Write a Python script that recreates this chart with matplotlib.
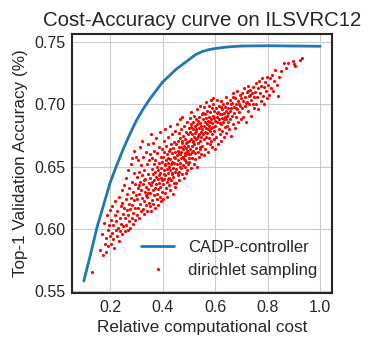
import matplotlib
matplotlib.use('Agg')
import matplotlib.pyplot as plt

# CADP-controller curve
cadp_cost = [0.10, 0.125, 0.15, 0.175, 0.20, 0.225, 0.25, 0.275, 0.30, 0.325, 0.35, 0.375,
             0.40, 0.425, 0.45, 0.475, 0.50, 0.525, 0.55, 0.575, 0.60, 0.65, 0.70, 0.80,
             0.90, 1.00]
cadp_acc = [0.558, 0.579, 0.601, 0.619, 0.637, 0.651, 0.664, 0.676, 0.687, 0.696, 0.704, 0.711,
            0.718, 0.723, 0.728, 0.732, 0.736, 0.740, 0.7425, 0.744, 0.745, 0.7463, 0.747, 0.7472,
            0.7470, 0.7468]

# dirichlet sampling (cost, accuracy)
dirichlet_pts = [
    (0.133, 0.565), (0.161, 0.583), (0.168, 0.596), (0.172, 0.579), (0.176, 0.605), (0.179, 0.588),
    (0.183, 0.593), (0.186, 0.581), (0.188, 0.611), (0.191, 0.599), (0.194, 0.586), (0.196, 0.603),
    (0.198, 0.594), (0.199, 0.615),
    (0.202, 0.588), (0.204, 0.607), (0.206, 0.597), (0.208, 0.618), (0.211, 0.592), (0.213, 0.603),
    (0.215, 0.585), (0.217, 0.611), (0.219, 0.622), (0.221, 0.599), (0.224, 0.606), (0.226, 0.594),
    (0.228, 0.614), (0.231, 0.601), (0.233, 0.626), (0.235, 0.590), (0.237, 0.609), (0.239, 0.598),
    (0.241, 0.618), (0.243, 0.604), (0.245, 0.631), (0.247, 0.596), (0.249, 0.612), (0.246, 0.621),
    (0.251, 0.602), (0.252, 0.617), (0.254, 0.635), (0.256, 0.598), (0.257, 0.609), (0.259, 0.624),
    (0.261, 0.641), (0.262, 0.603), (0.264, 0.615), (0.265, 0.628), (0.267, 0.599), (0.268, 0.611),
    (0.270, 0.647), (0.271, 0.620), (0.273, 0.606), (0.274, 0.633), (0.276, 0.616), (0.277, 0.601),
    (0.279, 0.625), (0.280, 0.652), (0.282, 0.609), (0.283, 0.638), (0.285, 0.619), (0.286, 0.604),
    (0.288, 0.630), (0.289, 0.613), (0.291, 0.645), (0.292, 0.623), (0.294, 0.607), (0.295, 0.636),
    (0.296, 0.617), (0.298, 0.658), (0.299, 0.627), (0.290, 0.663), (0.284, 0.657),
    (0.301, 0.611), (0.302, 0.642), (0.303, 0.624), (0.305, 0.655), (0.306, 0.617), (0.307, 0.633),
    (0.309, 0.609), (0.310, 0.646), (0.311, 0.628), (0.313, 0.666), (0.314, 0.620), (0.315, 0.638),
    (0.317, 0.614), (0.318, 0.651), (0.319, 0.631), (0.321, 0.625), (0.322, 0.643), (0.323, 0.671),
    (0.325, 0.616), (0.326, 0.636), (0.327, 0.658), (0.329, 0.622), (0.330, 0.647), (0.331, 0.612),
    (0.333, 0.630), (0.334, 0.640), (0.335, 0.662), (0.337, 0.619), (0.338, 0.634), (0.339, 0.652),
    (0.341, 0.626), (0.342, 0.614), (0.343, 0.644), (0.345, 0.668), (0.346, 0.629), (0.347, 0.637),
    (0.348, 0.621), (0.349, 0.655), (0.344, 0.632), (0.336, 0.627), (0.328, 0.639), (0.312, 0.635),
    (0.351, 0.618), (0.352, 0.641), (0.353, 0.660), (0.354, 0.629), (0.355, 0.676), (0.356, 0.635),
    (0.357, 0.614), (0.358, 0.648), (0.359, 0.623), (0.360, 0.657), (0.361, 0.638), (0.362, 0.631),
    (0.363, 0.669), (0.364, 0.644), (0.365, 0.620), (0.366, 0.652), (0.367, 0.627), (0.368, 0.639),
    (0.369, 0.663), (0.370, 0.633), (0.371, 0.646), (0.372, 0.617), (0.373, 0.655), (0.374, 0.636),
    (0.375, 0.642), (0.376, 0.673), (0.377, 0.628), (0.378, 0.650), (0.379, 0.624), (0.380, 0.661),
    (0.381, 0.640), (0.382, 0.632), (0.383, 0.647), (0.384, 0.619), (0.385, 0.666), (0.386, 0.637),
    (0.387, 0.653), (0.388, 0.643), (0.389, 0.626), (0.390, 0.678), (0.391, 0.645), (0.392, 0.634),
    (0.393, 0.658), (0.394, 0.622), (0.395, 0.649), (0.396, 0.639), (0.397, 0.664), (0.398, 0.630),
    (0.399, 0.654), (0.393, 0.641),
    (0.401, 0.636), (0.402, 0.658), (0.403, 0.624), (0.404, 0.671), (0.405, 0.647), (0.406, 0.640),
    (0.407, 0.662), (0.408, 0.629), (0.409, 0.651), (0.410, 0.680), (0.411, 0.643), (0.412, 0.655),
    (0.413, 0.633), (0.414, 0.667), (0.415, 0.648), (0.416, 0.638), (0.417, 0.660), (0.418, 0.626),
    (0.419, 0.653), (0.420, 0.674), (0.421, 0.645), (0.422, 0.657), (0.423, 0.635), (0.424, 0.663),
    (0.425, 0.650), (0.426, 0.641), (0.427, 0.683), (0.428, 0.656), (0.429, 0.631), (0.430, 0.647),
    (0.431, 0.668), (0.432, 0.652), (0.433, 0.639), (0.434, 0.661), (0.435, 0.644), (0.436, 0.676),
    (0.437, 0.654), (0.438, 0.628), (0.439, 0.649), (0.440, 0.665), (0.441, 0.642), (0.442, 0.658),
    (0.443, 0.637), (0.444, 0.670), (0.445, 0.653), (0.446, 0.646), (0.447, 0.634), (0.448, 0.662),
    (0.449, 0.679), (0.446, 0.657), (0.437, 0.645), (0.428, 0.664), (0.419, 0.640), (0.411, 0.652),
    (0.404, 0.644),
    (0.451, 0.648), (0.452, 0.668), (0.453, 0.637), (0.454, 0.659), (0.455, 0.684), (0.456, 0.652),
    (0.457, 0.671), (0.458, 0.643), (0.459, 0.663), (0.460, 0.655), (0.461, 0.677), (0.462, 0.646),
    (0.463, 0.666), (0.464, 0.639), (0.465, 0.660), (0.466, 0.688), (0.467, 0.653), (0.468, 0.673),
    (0.469, 0.649), (0.470, 0.662), (0.471, 0.657), (0.472, 0.680), (0.473, 0.644), (0.474, 0.669),
    (0.475, 0.690), (0.476, 0.658), (0.477, 0.651), (0.478, 0.675), (0.479, 0.664), (0.480, 0.641),
    (0.481, 0.667), (0.482, 0.656), (0.483, 0.683), (0.484, 0.661), (0.485, 0.650), (0.486, 0.672),
    (0.487, 0.659), (0.488, 0.645), (0.489, 0.678), (0.490, 0.665), (0.491, 0.654), (0.492, 0.686),
    (0.493, 0.647), (0.494, 0.670), (0.495, 0.660), (0.496, 0.676), (0.497, 0.652), (0.498, 0.667),
    (0.499, 0.681), (0.497, 0.663), (0.488, 0.669), (0.479, 0.658), (0.471, 0.666), (0.462, 0.661),
    (0.457, 0.645), (0.466, 0.650), (0.475, 0.671), (0.484, 0.655), (0.493, 0.663), (0.499, 0.657),
    (0.501, 0.671), (0.502, 0.654), (0.503, 0.689), (0.504, 0.664), (0.505, 0.678), (0.506, 0.660),
    (0.507, 0.694), (0.508, 0.672), (0.509, 0.649), (0.510, 0.682), (0.511, 0.667), (0.512, 0.676),
    (0.513, 0.657), (0.514, 0.686), (0.515, 0.670), (0.516, 0.663), (0.517, 0.680), (0.518, 0.652),
    (0.519, 0.674), (0.520, 0.691), (0.521, 0.668), (0.522, 0.661), (0.523, 0.683), (0.524, 0.677),
    (0.525, 0.656), (0.526, 0.672), (0.527, 0.688), (0.528, 0.665), (0.529, 0.679), (0.530, 0.650),
    (0.531, 0.673), (0.532, 0.696), (0.533, 0.684), (0.534, 0.662), (0.535, 0.675), (0.536, 0.669),
    (0.537, 0.681), (0.538, 0.658), (0.539, 0.690), (0.540, 0.676), (0.541, 0.666), (0.542, 0.685),
    (0.543, 0.671), (0.544, 0.699), (0.545, 0.678), (0.546, 0.660), (0.547, 0.683), (0.548, 0.674),
    (0.549, 0.692), (0.543, 0.664), (0.535, 0.687), (0.526, 0.680), (0.517, 0.671), (0.508, 0.684),
    (0.512, 0.662),
    (0.551, 0.680), (0.552, 0.667), (0.553, 0.693), (0.554, 0.676), (0.555, 0.688), (0.556, 0.659),
    (0.557, 0.683), (0.558, 0.698), (0.559, 0.672), (0.560, 0.686), (0.561, 0.678), (0.562, 0.664),
    (0.563, 0.692), (0.564, 0.681), (0.565, 0.702), (0.566, 0.674), (0.567, 0.689), (0.568, 0.669),
    (0.569, 0.684), (0.570, 0.695), (0.571, 0.677), (0.572, 0.662), (0.573, 0.687), (0.574, 0.680),
    (0.575, 0.699), (0.576, 0.673), (0.577, 0.690), (0.578, 0.683), (0.579, 0.668), (0.580, 0.694),
    (0.581, 0.679), (0.582, 0.686), (0.583, 0.704), (0.584, 0.671), (0.585, 0.688), (0.586, 0.681),
    (0.587, 0.666), (0.588, 0.697), (0.589, 0.685), (0.590, 0.676), (0.591, 0.691), (0.592, 0.682),
    (0.593, 0.700), (0.594, 0.672), (0.595, 0.689), (0.596, 0.695), (0.597, 0.679), (0.598, 0.664),
    (0.599, 0.687), (0.591, 0.705),
    (0.601, 0.683), (0.603, 0.697), (0.604, 0.674), (0.606, 0.690), (0.607, 0.704), (0.609, 0.686),
    (0.610, 0.668), (0.612, 0.694), (0.613, 0.680), (0.615, 0.699), (0.616, 0.688), (0.618, 0.676),
    (0.619, 0.692), (0.621, 0.703), (0.622, 0.684), (0.624, 0.671), (0.625, 0.696), (0.627, 0.689),
    (0.628, 0.679), (0.630, 0.700), (0.631, 0.686), (0.633, 0.693), (0.634, 0.674), (0.636, 0.698),
    (0.637, 0.690), (0.639, 0.682), (0.640, 0.706), (0.642, 0.695), (0.643, 0.677), (0.645, 0.691),
    (0.646, 0.701), (0.648, 0.686), (0.649, 0.697), (0.644, 0.683), (0.635, 0.688), (0.626, 0.692),
    (0.617, 0.685), (0.608, 0.693), (0.623, 0.698), (0.641, 0.688),
    (0.651, 0.693), (0.653, 0.680), (0.655, 0.704), (0.657, 0.688), (0.659, 0.697), (0.661, 0.675),
    (0.663, 0.701), (0.665, 0.691), (0.667, 0.709), (0.669, 0.684), (0.671, 0.698), (0.673, 0.693),
    (0.675, 0.705), (0.677, 0.681), (0.679, 0.700), (0.681, 0.690), (0.683, 0.711), (0.685, 0.696),
    (0.687, 0.686), (0.689, 0.703), (0.691, 0.694), (0.693, 0.708), (0.695, 0.699), (0.697, 0.688),
    (0.699, 0.705), (0.660, 0.700), (0.670, 0.706), (0.680, 0.697), (0.690, 0.700), (0.656, 0.695),
    (0.702, 0.697), (0.704, 0.709), (0.706, 0.690), (0.708, 0.703), (0.711, 0.713), (0.713, 0.699),
    (0.715, 0.706), (0.717, 0.686), (0.720, 0.710), (0.722, 0.702), (0.724, 0.715), (0.726, 0.695),
    (0.729, 0.707), (0.731, 0.700), (0.733, 0.712), (0.736, 0.704), (0.738, 0.691), (0.740, 0.709),
    (0.743, 0.700), (0.745, 0.714), (0.747, 0.706), (0.749, 0.697), (0.716, 0.701), (0.734, 0.708),
    (0.727, 0.711),
    (0.752, 0.710), (0.754, 0.700), (0.757, 0.717), (0.760, 0.706), (0.763, 0.713), (0.765, 0.696),
    (0.768, 0.719), (0.771, 0.709), (0.773, 0.703), (0.776, 0.715), (0.779, 0.721), (0.782, 0.707),
    (0.785, 0.714), (0.788, 0.700), (0.791, 0.718), (0.794, 0.711), (0.797, 0.722), (0.799, 0.705),
    (0.803, 0.716), (0.806, 0.708), (0.810, 0.721), (0.814, 0.713), (0.818, 0.724), (0.822, 0.711),
    (0.826, 0.719), (0.829, 0.728), (0.834, 0.716), (0.838, 0.707), (0.843, 0.722), (0.850, 0.7266),
    (0.862, 0.733), (0.870, 0.729), (0.877, 0.733), (0.896, 0.735), (0.902, 0.7325), (0.905, 0.731),
    (0.930, 0.7373), (0.924, 0.736),
]
samp_cost = [p[0] for p in dirichlet_pts]
samp_acc = [p[1] for p in dirichlet_pts]

plt.style.use('seaborn-v0_8-whitegrid')
plt.rcParams['font.family'] = ['Liberation Sans', 'DejaVu Sans']

fig = plt.figure(figsize=(3.74, 3.47), dpi=100)
ax = fig.add_axes([0.1925, 0.156, 0.695, 0.746])

ax.plot(cadp_cost, cadp_acc, color='#1f77b4', linewidth=2, label='CADP-controller')
ax.plot(samp_cost, samp_acc, linestyle='none', marker='.', markersize=2.5,
        color='red', label='dirichlet sampling')

ax.set_xticks([0.2, 0.4, 0.6, 0.8, 1.0])
ax.set_yticks([0.55, 0.60, 0.65, 0.70, 0.75])
ax.tick_params(labelsize=11.5, pad=5)
ax.set_xlabel('Relative computational cost', fontsize=12.3)
ax.set_ylabel('Top-1 Validation Accuracy (%)', fontsize=12.3)
ax.set_title('Cost-Accuracy curve on ILSVRC12', fontsize=14.7)

for s in ax.spines.values():
    s.set_visible(True)
    s.set_edgecolor('#262626')
    s.set_linewidth(1.5)

ax.legend(loc='lower right', frameon=False, fontsize=12)

fig.savefig('out.png', dpi=100)
